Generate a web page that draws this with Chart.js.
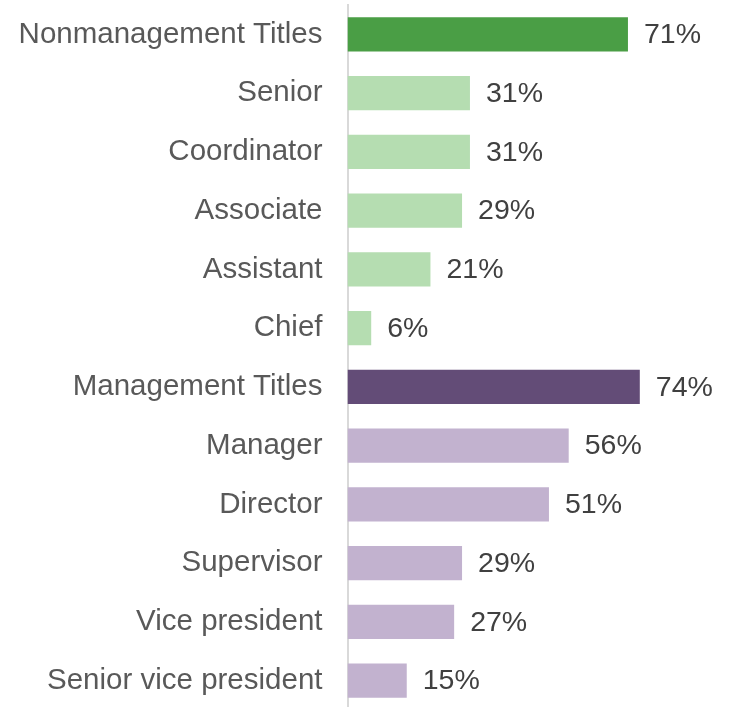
<!DOCTYPE html>
<html>
<head>
<meta charset="utf-8">
<script src="https://cdn.jsdelivr.net/npm/chart.js@4"></script>
<style>
  html, body { margin: 0; padding: 0; background: #ffffff; overflow: hidden; }
  canvas { display: block; }
</style>
</head>
<body>
<canvas id="chart" width="730" height="712"></canvas>
<script>
// Share of job postings by title
const titles = [
  'Nonmanagement Titles', 'Senior', 'Coordinator', 'Associate', 'Assistant', 'Chief',
  'Management Titles', 'Manager', 'Director', 'Supervisor', 'Vice president', 'Senior vice president'
];
const shares = [71, 31, 31, 29, 21, 6, 74, 56, 51, 29, 27, 15];
const nonmanagementTitles = ['Senior', 'Coordinator', 'Associate', 'Assistant', 'Chief'];

const colorFor = (name) => {
  if (name === 'Nonmanagement Titles') return '#4a9e45';
  if (name === 'Management Titles') return '#634c77';
  if (nonmanagementTitles.includes(name)) return '#b5ddb1';
  return '#c2b2cf';
};

const FONT = "'Liberation Sans', Arial, sans-serif";

// Writes the percentage just past the end of each bar
const valueLabels = {
  id: 'valueLabels',
  afterDatasetsDraw(chart) {
    const ctx = chart.ctx;
    const meta = chart.getDatasetMeta(0);
    ctx.save();
    ctx.font = '28.5px ' + FONT;
    ctx.fillStyle = '#404040';
    ctx.textAlign = 'left';
    ctx.textBaseline = 'middle';
    meta.data.forEach((bar, i) => {
      ctx.fillText(shares[i] + '%', bar.x + 16, bar.y + 1);
    });
    ctx.restore();
  }
};

new Chart(document.getElementById('chart'), {
  type: 'bar',
  data: {
    labels: titles,
    datasets: [{
      data: shares,
      backgroundColor: titles.map(colorFor),
      borderWidth: 0,
      barPercentage: 0.58,
      categoryPercentage: 1.0
    }]
  },
  options: {
    indexAxis: 'y',
    responsive: false,
    animation: false,
    layout: { padding: { top: 5, bottom: 2, left: 0, right: 27 } },
    plugins: { legend: { display: false }, tooltip: { enabled: false } },
    scales: {
      x: {
        min: 0, max: 90,
        display: false,
        grid: { display: false }
      },
      y: {
        grid: {
          display: true,
          drawOnChartArea: false,
          drawTicks: true,
          tickLength: 25,
          color: 'rgba(0,0,0,0)',
          tickColor: 'rgba(0,0,0,0)'
        },
        border: { display: true, color: '#d9d9d9', width: 2 },
        ticks: {
          color: '#595959',
          font: { family: FONT, size: 29.5, lineHeight: 0.05 },
          padding: 0,
          autoSkip: false
        },
        afterFit(scale) { scale.width = 347.5; }
      }
    }
  },
  plugins: [valueLabels]
});
</script>
</body>
</html>
